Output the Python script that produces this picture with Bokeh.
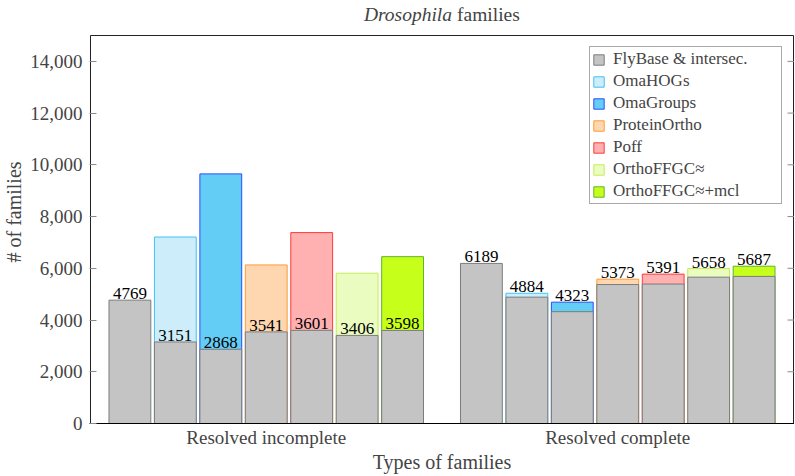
from bokeh.plotting import figure
from bokeh.models import (ColumnDataSource, Range1d, FixedTicker, NumeralTickFormatter,
                          Legend, LegendItem, Label)
from bokeh.embed import file_html
from bokeh.resources import INLINE
from bokeh.core.properties import value

# ---------------- data ----------------
groups = ["Resolved incomplete", "Resolved complete"]
methods = ["FlyBase & intersec.", "OmaHOGs", "OmaGroups", "ProteinOrtho",
           "Poff", "OrthoFFGC≈", "OrthoFFGC≈+mcl"]
base_incomplete = [4769, 3151, 2868, 3541, 3601, 3406, 3598]
total_incomplete = [4769, 7210, 9650, 6130, 7380, 5810, 6450]
base_complete = [6189, 4884, 4323, 5373, 5391, 5658, 5687]
total_complete = [6189, 5035, 4690, 5580, 5775, 5990, 6080]
y_ticks = [0, 2000, 4000, 6000, 8000, 10000, 12000, 14000]
y_max = 15000
title_italic = "Drosophila"
title_rest = "families"

# ---------------- style ----------------
FONT = "Liberation Serif"
fills = ["#c4c4c4", "#ccedf9", "#63cdf5", "#fed7b0", "#ffb0b0", "#ebfcc0", "#c6ff1a"]
lines = ["#7c7c7c", "#3fc3f3", "#2a4cff", "#ff9a33", "#ff3b3b", "#c6ec55", "#5cb52c"]
STEP = 0.1293
WIDTH = 0.119
PX = 1.0 / 352.0            # one pixel in x data units
FRAME_H = 423.0             # frame height in px (axis box + room for the title)
BOX_H = 388.0               # visible axis box height in px
X0, X1 = -0.5, 1.5

bases = [base_incomplete, base_complete]
totals = [total_incomplete, total_complete]
n = len(methods)

def xpos(g, i):
    return g + (i - (n - 1) / 2) * STEP

p = figure(width=794, height=475,
           x_range=Range1d(X0 - PX, X1 + PX),
           y_range=Range1d(0, y_max * FRAME_H / BOX_H),
           output_backend="svg", toolbar_location=None,
           min_border_left=88, min_border_right=0, min_border_top=0, min_border_bottom=52)
p.xgrid.visible = False
p.ygrid.visible = False
p.outline_line_color = None

# visible axis box
p.quad(left=X0, right=X1, bottom=0, top=y_max, fill_color=None,
       line_color="#222222", line_width=1)

# coloured (total) bars first
renderers = {}
for i in range(1, n):
    src = ColumnDataSource(dict(x=[xpos(g, i) for g in range(len(groups))],
                                top=[totals[g][i] for g in range(len(groups))]))
    renderers[i] = p.vbar(x="x", top="top", bottom=0, width=WIDTH, source=src,
                          fill_color=fills[i], line_color=lines[i], line_width=1)

# grey (FlyBase & intersection) bars on top
gx, gt, ly, lt = [], [], [], []
for g in range(len(groups)):
    for i in range(n):
        gx.append(xpos(g, i))
        gt.append(bases[g][i])
        ly.append(bases[g][i] if g == 0 else totals[g][i])
        lt.append(str(bases[g][i]))
gsrc = ColumnDataSource(dict(x=gx, top=gt, ly=ly, lt=lt))
renderers[0] = p.vbar(x="x", top="top", bottom=0, width=WIDTH, source=gsrc,
                      fill_color=fills[0], line_color=lines[0], line_width=1)
p.text(x="x", y="ly", text="lt", source=gsrc, text_align="center", text_baseline="bottom",
       y_offset=-1, text_font=value(FONT), text_font_size="17px", text_color="black")

# right-hand inner ticks (half of each dash is clipped by the frame edge)
p.scatter(x=[X1 + PX] * len(y_ticks), y=y_ticks, marker="dash", size=14,
          line_color="#8a8a8a", line_width=1)

# ---------------- axes ----------------
yax = p.yaxis[0]
yax.ticker = FixedTicker(ticks=y_ticks)
yax.formatter = NumeralTickFormatter(format="0,0")
yax.major_tick_in = 7
yax.major_tick_out = 0
yax.major_tick_line_color = "#8a8a8a"
yax.minor_tick_line_color = None
yax.axis_line_color = None
yax.major_label_text_font = FONT
yax.major_label_text_font_size = "19px"
yax.major_label_standoff = 7
yax.axis_label = "# of families"
yax.axis_label_text_font = FONT
yax.axis_label_text_font_size = "20px"
yax.axis_label_text_font_style = "normal"
yax.axis_label_standoff = 2

xax = p.xaxis[0]
xax.ticker = FixedTicker(ticks=list(range(len(groups))))
xax.major_label_overrides = {g: name for g, name in enumerate(groups)}
xax.major_tick_line_color = None
xax.major_tick_in = 0
xax.major_tick_out = 0
xax.minor_tick_line_color = None
xax.axis_line_color = "black"
xax.major_label_text_font = FONT
xax.major_label_text_font_size = "19px"
xax.major_label_standoff = 3
xax.axis_label = "Types of families"
xax.axis_label_text_font = FONT
xax.axis_label_text_font_size = "20px"
xax.axis_label_text_font_style = "normal"
xax.axis_label_standoff = 0

# ---------------- legend ----------------
items = [LegendItem(label=methods[i], renderers=[renderers[i]]) for i in range(n)]
legend = Legend(items=items, location=(500, 219), label_text_font=FONT,
                label_text_font_size="17px", glyph_width=13, glyph_height=13,
                label_height=20, spacing=2, padding=2, label_standoff=8, label_width=166,
                border_line_color="#555555", border_line_width=1, background_fill_alpha=1,
                margin=0)
p.add_layout(legend)

# ---------------- title ----------------
p.add_layout(Label(x=0.5, y=y_max, x_offset=10, y_offset=21, text=title_italic,
                   text_align="right", text_baseline="alphabetic", text_font=FONT,
                   text_font_size="19.5px", text_font_style="italic"))
p.add_layout(Label(x=0.5, y=y_max, x_offset=15, y_offset=21, text=title_rest,
                   text_align="left", text_baseline="alphabetic", text_font=FONT,
                   text_font_size="19.5px"))

open("out.html", "w").write(file_html(p, INLINE))
